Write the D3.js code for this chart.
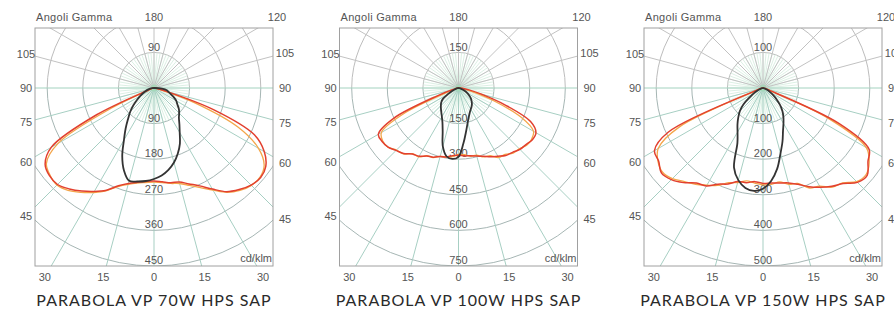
<!DOCTYPE html>
<html>
<head>
<meta charset="UTF-8">
<title>Parabola VP photometry</title>
<script src="https://d3js.org/d3.v7.min.js"></script>
<style>
  body { margin: 0; background: #fff; }
  svg { display: block; }
  .tick { font-family: "Liberation Sans", Arial, sans-serif; font-size: 11px; fill: #555; }
  .title { font-family: Lato, "Open Sans", sans-serif; font-size: 16px; fill: #2a2a2a; letter-spacing: 1px; }
</style>
</head>
<body>
<div id="chart"></div>
<script>
// gamma angles, negative = left half (C180), positive = right half (C0)
var gammaAngles = [-90,-85,-80,-75,-70,-65,-60,-55,-50,-45,-40,-35,-30,-25,-20,-15,-10,-5,
                   0, 5,10,15,20,25,30,35,40,45,50,55,60,65,70,75,80,85,90];

var panelTitles = ["PARABOLA VP 70W HPS SAP", "PARABOLA VP 100W HPS SAP", "PARABOLA VP 150W HPS SAP"];

// ring ticks (cd/klm)
var rings70  = [90, 180, 270, 360, 450];
var rings100 = [150, 300, 450, 600, 750];
var rings150 = [100, 200, 300, 400, 500];

// angle labels round the box
var sideLabels   = [105, 90, 75, 60, 45];
var bottomLabels = [-30, -15, 0, 15, 30];
var topLabels    = [180, 120];

// intensities cd/klm
var red70    = [0,2,5,8,15,160,300,336,345,345,333,318,302,285,263,250,242,237, 235, 238,243,246,258,273,295,320,335,347,352,345,322,280,160,30,8,3,0];
var orange70 = [0,1,3,5,12,110,280,332,343,347,338,322,305,287,265,252,244,240, 238, 240,245,250,262,278,298,322,338,348,350,340,305,235,110,20,6,2,0];
var black70  = [0,5,10,16,22,30,40,52,68,85,102,125,152,190,222,243,240,236, 230, 222,210,195,176,155,130,112,98,90,82,72,65,55,45,38,33,20,0];

var red100    = [0,3,10,30,90,300,390,393,387,372,360,339,332,316,310,299,295,286, 283, 287,290,297,306,320,332,347,354,366,371,380,377,335,210,100,45,15,0];
var orange100 = [0,2,5,12,40,250,375,390,388,370,362,338,335,315,312,298,296,290, 280, 282,292,293,309,315,338,342,358,362,375,376,365,290,160,60,25,8,0];
var black100  = [0,2,5,10,18,30,50,80,95,105,115,126,140,160,195,255,292,300, 290, 235,185,150,128,113,103,96,88,78,68,55,43,30,18,10,5,2,0];

var red150    = [0,1,2,6,20,294,352,358,372,364,347,326,318,298,287,272,270,264, 268, 268,271,276,288,306,322,337,350,375,382,360,344,235,20,6,2,1,0];
var orange150 = [0,1,2,5,15,260,340,360,368,360,343,330,315,302,283,275,265,268, 272, 272,268,280,285,310,318,340,348,372,378,364,335,205,15,5,2,1,0];
var black150  = [0,1,3,6,10,18,30,45,72,92,108,125,143,170,238,268,285,290, 283, 262,230,190,160,133,115,100,85,68,50,35,22,14,8,4,2,1,0];

var panels = [
  { title: panelTitles[0], rings: rings70,  red: red70,  orange: orange70,  black: black70 },
  { title: panelTitles[1], rings: rings100, red: red100, orange: orange100, black: black100 },
  { title: panelTitles[2], rings: rings150, red: red150, orange: orange150, black: black150 }
];

var width = 894, height = 311;
var boxW = 238, boxTop = 28, boxBottom = 266;
var cx = 119, cy = 88;
var rad = Math.PI / 180;

var svg = d3.select("#chart").append("svg")
    .attr("width", width)
    .attr("height", height);

// where the panels start
var xPanel = d3.scaleLinear().domain([0, 2]).range([35, 644]);

panels.forEach(function(p, i) {
    var g = svg.append("g").attr("transform", "translate(" + xPanel(i) + ",0)");

    var rScale = d3.scaleLinear()
        .domain([0, d3.max(p.rings)])
        .range([0, boxBottom - cy]);

    var clipId = "clip" + i;
    g.append("clipPath").attr("id", clipId)
      .append("rect")
        .attr("x", 0).attr("y", boxTop)
        .attr("width", boxW).attr("height", boxBottom - boxTop);

    var grid = g.append("g").attr("clip-path", "url(#" + clipId + ")");

    // concentric rings, grey on top half, blue-grey below
    p.rings.forEach(function(v) {
        var r = rScale(v);
        grid.append("path")
            .attr("d", "M" + (cx - r) + "," + cy + " A" + r + "," + r + " 0 0 1 " + (cx + r) + "," + cy)
            .attr("fill", "none").attr("stroke", "#bdbdbd").attr("stroke-width", 1);
        grid.append("path")
            .attr("d", "M" + (cx + r) + "," + cy + " A" + r + "," + r + " 0 0 1 " + (cx - r) + "," + cy)
            .attr("fill", "none").attr("stroke", "#a6b6b4").attr("stroke-width", 1);
    });

    // fine 5 degree rays near the centre
    d3.range(-180, 180, 5).forEach(function(a) {
        var r0 = rScale(p.rings[0]);
        grid.append("line")
            .attr("x1", cx).attr("y1", cy)
            .attr("x2", cx + r0 * Math.sin(a * rad))
            .attr("y2", cy + r0 * Math.cos(a * rad))
            .attr("stroke", "#d3ecdd").attr("stroke-width", 0.8);
    });

    // main 15 degree rays
    d3.range(-180, 180, 15).forEach(function(a) {
        var lower = Math.abs(a) < 90;
        var col = Math.abs(a) === 90 ? "#a3d2bf" : (lower ? "#a7cfc3" : "#c2c2c2");
        grid.append("line")
            .attr("x1", cx).attr("y1", cy)
            .attr("x2", cx + 400 * Math.sin(a * rad))
            .attr("y2", cy + 400 * Math.cos(a * rad))
            .attr("stroke", col).attr("stroke-width", 1);
    });

    grid.append("circle")
        .attr("cx", cx).attr("cy", cy).attr("r", 3.5)
        .attr("fill", "#9fdcb5").attr("opacity", 0.7);

    // frame
    g.append("rect")
        .attr("x", 0).attr("y", boxTop)
        .attr("width", boxW).attr("height", boxBottom - boxTop)
        .attr("fill", "none").attr("stroke", "#a0a0a0").attr("stroke-width", 1);

    // ring value labels
    var ringLabels = [{ v: p.rings[0], up: true }].concat(p.rings.map(function(v) { return { v: v, up: false }; }));
    g.selectAll("text.ring").data(ringLabels).enter()
      .append("text")
        .attr("class", "tick")
        .attr("text-anchor", "middle")
        .attr("x", cx)
        .attr("y", function(d) { return d.up ? cy - rScale(d.v) - 1 : cy + rScale(d.v) - 2; })
        .text(function(d) { return d.v; });

    // curves
    var line = d3.lineRadial()
        .angle(function(d) { return Math.PI - d[0] * rad; })
        .radius(function(d) { return rScale(d[1]); })
        .curve(d3.curveCatmullRom.alpha(0.5));

    var plot = g.append("g").attr("transform", "translate(" + cx + "," + cy + ")");
    [["orange", "#f4a64a", 1.3], ["red", "#e2402f", 1.5], ["black", "#333333", 1.8]].forEach(function(s) {
        var pts = gammaAngles.map(function(a, k) { return [a, p[s[0]][k]]; });
        plot.append("path")
            .attr("d", line(pts))
            .attr("fill", "none")
            .attr("stroke", s[1])
            .attr("stroke-width", s[2])
            .attr("stroke-linejoin", "round");
    });

    // angle labels: where each ray meets a rectangle just outside the frame
    var outL = -9, outR = boxW + 12, outT = 17, outB = 277;
    function edgePoint(a) {
        var dx = Math.sin(a * rad), dy = Math.cos(a * rad);
        var tx = dx > 1e-9 ? (outR - cx) / dx : (dx < -1e-9 ? (outL - cx) / dx : Infinity);
        var ty = dy > 1e-9 ? (outB - cy) / dy : (dy < -1e-9 ? (outT - cy) / dy : Infinity);
        var t = Math.min(tx, ty);
        return [cx + t * dx, cy + t * dy];
    }
    var angleLabels = [];
    sideLabels.forEach(function(a) { angleLabels.push(-a); angleLabels.push(a); });
    bottomLabels.forEach(function(a) { angleLabels.push(a); });
    topLabels.forEach(function(a) { angleLabels.push(a); });

    g.selectAll("text.ang").data(angleLabels).enter()
      .append("text")
        .attr("class", "tick")
        .attr("text-anchor", "middle")
        .attr("dy", "0.35em")
        .attr("x", function(a) { return edgePoint(a)[0]; })
        .attr("y", function(a) { return edgePoint(a)[1]; })
        .text(function(a) { return Math.abs(a); });

    g.append("text")
        .attr("class", "tick")
        .attr("x", 1).attr("y", outT).attr("dy", "0.35em")
        .style("letter-spacing", "0.3px")
        .text("Angoli Gamma");

    g.append("text")
        .attr("class", "tick")
        .attr("text-anchor", "end")
        .attr("x", boxW - 1).attr("y", boxBottom - 4)
        .text("cd/klm");

    g.append("text")
        .attr("class", "title")
        .attr("text-anchor", "middle")
        .attr("x", cx).attr("y", 306)
        .text(p.title);
});
</script>
</body>
</html>
